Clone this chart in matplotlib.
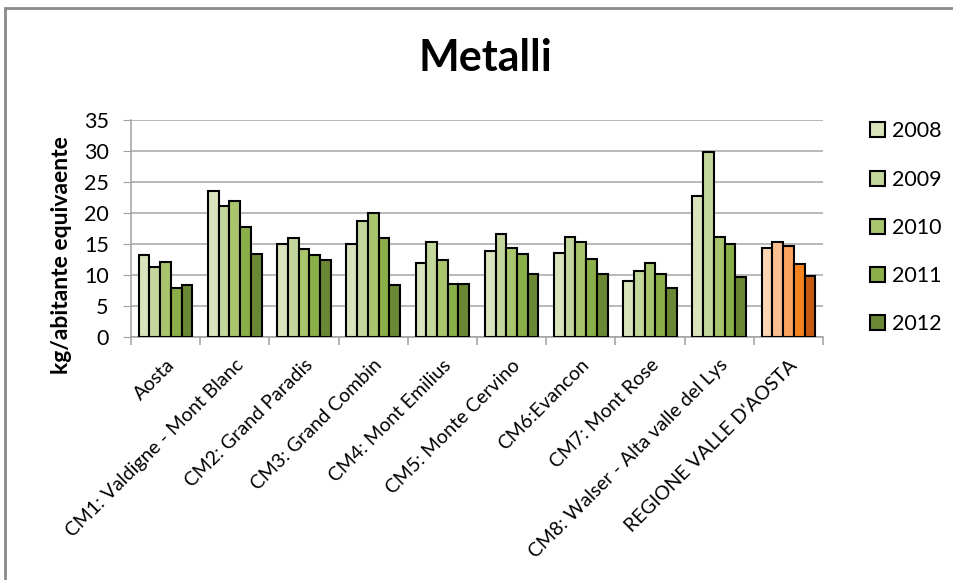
import numpy as np
import matplotlib as mpl
import matplotlib.pyplot as plt
from matplotlib.patches import Patch, Rectangle

mpl.rcParams['font.family'] = ['Lato', 'DejaVu Sans']

categories = ["Aosta", "CM1: Valdigne - Mont Blanc", "CM2: Grand Paradis",
              "CM3: Grand Combin", "CM4: Mont Emilius", "CM5: Monte Cervino",
              "CM6:Evancon", "CM7: Mont Rose", "CM8: Walser - Alta valle del Lys",
              "REGIONE VALLE D'AOSTA"]
years = ["2008", "2009", "2010", "2011", "2012"]

v2008 = [13.2, 23.5, 15.0, 15.0, 11.9, 13.8, 13.6, 9.0, 22.8, 14.4]
v2009 = [11.3, 21.2, 15.9, 18.7, 15.3, 16.6, 16.1, 10.7, 29.9, 15.4]
v2010 = [12.1, 21.9, 14.2, 20.0, 12.5, 14.4, 15.4, 11.9, 16.1, 14.6]
v2011 = [7.9, 17.7, 13.2, 15.9, 8.6, 13.4, 12.6, 10.2, 15.0, 11.7]
v2012 = [8.4, 13.4, 12.5, 8.4, 8.6, 10.2, 10.1, 7.9, 9.7, 9.8]

greens = ['#d9e4bd', '#c3d69b', '#a8c46c', '#8aae48', '#6a8834']
oranges = ['#fcd5b4', '#fbbf8f', '#f9a35e', '#f58320', '#c55a10']

data = [v2008, v2009, v2010, v2011, v2012]

fig = plt.figure(figsize=(9.54, 5.8), dpi=100)
ax = fig.add_axes([0.1373, 0.419, 0.7254, 0.374])

n = len(categories)
x = np.arange(n)
bw = 0.155
for j in range(len(years)):
    cols = [greens[j]] * (n - 1) + [oranges[j]]
    ax.bar(x + (j - 2) * bw, data[j], width=bw, color=cols,
           edgecolor='black', linewidth=1.5, zorder=3)

ax.set_xlim(-0.5, n - 0.5)
ax.set_ylim(0, 35)
ax.set_yticks(range(0, 36, 5))
ax.yaxis.grid(True, color='#a6a6a6', linewidth=1.1, zorder=0)
ax.set_axisbelow(True)

for s in ['top', 'right']:
    ax.spines[s].set_visible(False)
for s in ['left', 'bottom']:
    ax.spines[s].set_color('#a0a0a0')
    ax.spines[s].set_linewidth(1.1)

ax.tick_params(axis='y', direction='out', length=6, color='#a0a0a0',
               labelsize=15.5, pad=10)
ax.set_xticks(x)
ax.set_xticklabels(categories, rotation=45, ha='right',
                   rotation_mode='anchor', fontsize=14)
ax.tick_params(axis='x', which='major', length=0, pad=14)
ax.set_xticks(np.arange(-0.5, n, 1), minor=True)
ax.tick_params(axis='x', which='minor', direction='out', length=6,
               color='#a0a0a0', width=1.1)

fig.text(0.509, 0.9, "Metalli", ha='center', va='center',
         fontsize=31, fontweight='bold')
fig.text(0.064, 0.56, "kg/abitante equivaente", rotation=90,
         ha='center', va='center', fontsize=16.5, fontweight='bold')

handles = [Patch(facecolor=greens[j], edgecolor='black', linewidth=1.5)
           for j in range(len(years))]
fig.legend(handles, years, loc='upper left', bbox_to_anchor=(0.892, 0.824),
           frameon=False, fontsize=15.5, handlelength=0.7, handleheight=0.7,
           handletextpad=0.3, labelspacing=1.31)

fig.add_artist(Rectangle((5 / 954, -0.2), 1.2, 1.2 - 8 / 580,
                         transform=fig.transFigure, fill=False,
                         edgecolor='#8a8a8a', linewidth=2))

fig.savefig("out.png", dpi=100)
